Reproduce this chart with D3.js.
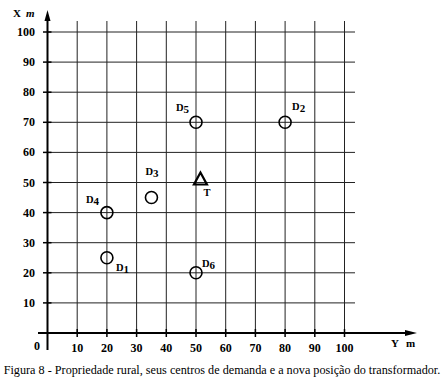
<!DOCTYPE html>
<html>
<head>
<meta charset="utf-8">
<script src="https://cdn.jsdelivr.net/npm/d3@7"></script>
<style>
  body { margin: 0; background: #fff; }
  svg { display: block; }
</style>
</head>
<body>
<svg id="chart" width="442" height="381" font-family="'Liberation Serif', 'DejaVu Serif', Times, serif"></svg>
<script>
// ticks of both axes (metres)
const ticks = [10, 20, 30, 40, 50, 60, 70, 80, 90, 100];

// demand centres: name, subscript, Y (horizontal), X (vertical)
const names = ["D", "D", "D", "D", "D", "D"];
const subs = ["1", "2", "3", "4", "5", "6"];
const yValues = [20, 80, 35, 20, 50, 50];
const xValues = [25, 70, 45, 40, 70, 20];

// new transformer position
const transformer = { name: "T", y: 51.5, x: 51 };

const caption = "Figura 8 - Propriedade rural, seus centros de demanda e a nova posição do transformador.";

const svg = d3.select("#chart");

// horizontal axis is Y, vertical axis is X
const sx = d3.scaleLinear().domain([0, 100]).range([47.5, 344.5]);
const sy = d3.scaleLinear().domain([0, 100]).range([333, 32]);

// grid
const grid = svg.append("g").attr("stroke", "#222").attr("stroke-width", 1);
grid.selectAll(".vline").data(ticks).enter().append("line")
    .attr("x1", d => sx(d)).attr("x2", d => sx(d))
    .attr("y1", 21).attr("y2", sy(0));
grid.selectAll(".hline").data(ticks).enter().append("line")
    .attr("x1", sx(0)).attr("x2", 355)
    .attr("y1", d => sy(d)).attr("y2", d => sy(d));

// axes
const axes = svg.append("g").attr("stroke", "#000").attr("stroke-width", 2);
axes.append("line").attr("x1", sx(0)).attr("x2", sx(0)).attr("y1", 18).attr("y2", 350);
axes.append("line").attr("x1", 38).attr("x2", 408).attr("y1", sy(0)).attr("y2", sy(0));
svg.append("path").attr("d", `M${sx(0) - 3},21 L${sx(0)},10 L${sx(0) + 3},21 Z`).attr("fill", "#000");
svg.append("path").attr("d", `M405,${sy(0) - 3} L417,${sy(0)} L405,${sy(0) + 3} Z`).attr("fill", "#000");

// tick marks
const tk = svg.append("g").attr("stroke", "#000").attr("stroke-width", 1.5);
tk.selectAll(".tx").data(ticks).enter().append("line")
    .attr("x1", d => sx(d)).attr("x2", d => sx(d))
    .attr("y1", sy(0) - 4).attr("y2", sy(0) + 4);
tk.selectAll(".ty").data(ticks).enter().append("line")
    .attr("x1", 43).attr("x2", sx(0) + 4)
    .attr("y1", d => sy(d)).attr("y2", d => sy(d));

// tick labels
const lab = svg.append("g").attr("font-size", 12).attr("font-weight", "bold").attr("fill", "#000");
lab.selectAll(".lx").data(ticks).enter().append("text")
    .attr("x", d => sx(d)).attr("y", 352).attr("text-anchor", "middle").text(d => d);
lab.selectAll(".ly").data(ticks).enter().append("text")
    .attr("x", 35).attr("y", d => sy(d) + 4).attr("text-anchor", "end").text(d => d);
lab.append("text").attr("x", 37).attr("y", 350).attr("text-anchor", "middle").text("0");

// axis names
lab.append("text").attr("x", 13).attr("y", 17).attr("font-size", 11).text("X");
lab.append("text").attr("x", 26).attr("y", 17).attr("font-size", 11).attr("font-style", "italic").text("m");
lab.append("text").attr("x", 391).attr("y", 347).attr("font-size", 11).text("Y");
lab.append("text").attr("x", 406).attr("y", 347).attr("font-size", 11).text("m");

// demand centres
const pts = names.map((n, i) => ({ n, s: subs[i], y: yValues[i], x: xValues[i] }));
svg.selectAll(".pt").data(pts).enter().append("circle")
    .attr("cx", d => sx(d.y)).attr("cy", d => sy(d.x)).attr("r", 6)
    .attr("fill", "none").attr("stroke", "#000").attr("stroke-width", 1.6);

// label offsets relative to the circle centre
const offs = { "1": [9, 13], "2": [7, -12], "3": [-6, -23], "4": [-21, -10], "5": [-20, -11], "6": [6, -6] };
const pl = svg.append("g").attr("font-size", 10.5).attr("font-weight", "bold").attr("fill", "#000");
pts.forEach(d => {
  const o = offs[d.s];
  const t = pl.append("text").attr("x", sx(d.y) + o[0]).attr("y", sy(d.x) + o[1]);
  t.append("tspan").text(d.n);
  t.append("tspan").attr("dy", 2).attr("font-size", 11).text(d.s);
});

// transformer triangle
const tx = sx(transformer.y), ty = sy(transformer.x);
svg.append("path")
    .attr("d", `M${tx},${ty - 7} L${tx + 6.5},${ty + 5} L${tx - 6.5},${ty + 5} Z`)
    .attr("fill", "none").attr("stroke", "#000").attr("stroke-width", 2.2).attr("stroke-linejoin", "miter");
pl.append("text").attr("x", tx + 3).attr("y", ty + 17).text(transformer.name);

// caption
svg.append("text").attr("x", 222).attr("y", 374).attr("text-anchor", "middle")
    .attr("font-size", 12.2).attr("fill", "#000").text(caption);
</script>
</body>
</html>
